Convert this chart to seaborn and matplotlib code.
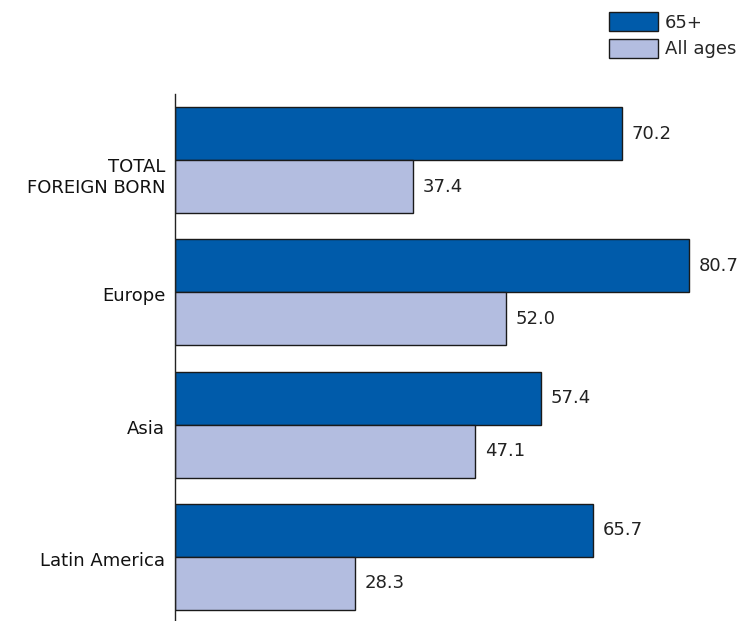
import pandas as pd
import seaborn as sns
import matplotlib.pyplot as plt
import matplotlib.transforms as mtransforms

# Percent values
regions = ["TOTAL\nFOREIGN BORN", "Europe", "Asia", "Latin America"]
age_groups = ["65+", "All ages"]
pct_65plus = [70.2, 80.7, 57.4, 65.7]
pct_all_ages = [37.4, 52.0, 47.1, 28.3]

colors = ["#005BAA", "#B3BDE0"]

df = pd.DataFrame({
    "region": regions * 2,
    "age": [age_groups[0]] * len(regions) + [age_groups[1]] * len(regions),
    "pct": pct_65plus + pct_all_ages,
})

sns.set_style("white")
plt.rcParams["font.family"] = ["DejaVu Sans"]
fs = 13

fig = plt.figure(figsize=(7.45, 6.21), dpi=100)
ax = fig.add_axes([175 / 745, 0.0, 1 - 175 / 745, 1 - 94 / 621])

sns.barplot(data=df, y="region", x="pct", hue="age", orient="h",
            palette=colors, saturation=1, edgecolor="#1a1a1a", linewidth=1.0,
            width=0.8, ax=ax, legend=False)

for cont in ax.containers:
    ax.bar_label(cont, fmt="%.1f", padding=7, fontsize=fs, color="#222222")

ax.set_xlim(0, 89.5)
ax.set_ylim(3.485, -0.5)
ax.set_xlabel("")
ax.set_ylabel("")
ax.set_xticks([])
ax.tick_params(axis="y", length=0, pad=7, labelsize=fs, labelcolor="#111111")
for s in ["top", "right", "bottom"]:
    ax.spines[s].set_visible(False)
ax.spines["left"].set_color("#222222")
ax.spines["left"].set_linewidth(1.0)

# first label sits a bit lower in the original
lbl = ax.get_yticklabels()[0]
lbl.set_transform(lbl.get_transform() + mtransforms.ScaledTranslation(0, -14 / 100, fig.dpi_scale_trans))
for lbl in ax.get_yticklabels()[1:]:
    lbl.set_transform(lbl.get_transform() + mtransforms.ScaledTranslation(0, -2 / 100, fig.dpi_scale_trans))

handles = [plt.Rectangle((0, 0), 1, 1, facecolor=c, edgecolor="#1a1a1a", linewidth=1.0) for c in colors]
fig.legend(handles, age_groups, loc="upper left", bbox_to_anchor=(609 / 745, 1 - 12 / 621),
           frameon=False, fontsize=fs, borderpad=0, borderaxespad=0,
           handlelength=2.7, handleheight=1.25, handletextpad=0.4, labelspacing=0.4)

plt.savefig("out.png", dpi=100)
